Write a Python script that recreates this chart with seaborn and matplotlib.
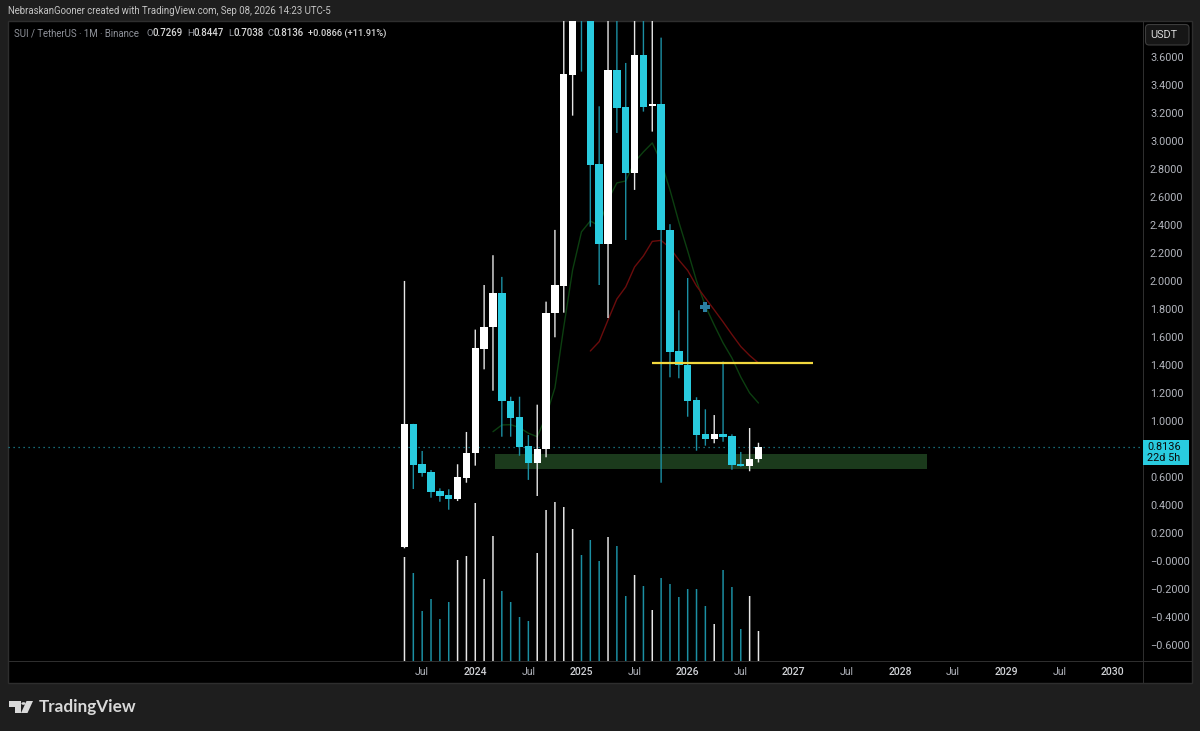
import matplotlib.pyplot as plt
import matplotlib.patches as mpatches
import numpy as np
import pandas as pd
import seaborn as sns

# monthly SUI/USDT candles, May 2023 - Sep 2026
opens = [0.099, 0.977, 0.691, 0.634, 0.500, 0.471, 0.440, 0.595, 0.774, 1.513, 1.673, 1.916, 1.146, 1.027,
         0.822, 0.702, 0.798, 1.771, 1.968, 3.475, 4.250, 4.050, 2.837, 2.267, 3.511, 3.247, 2.777, 3.618,
         3.254, 3.266, 2.367, 1.499, 1.401, 1.151, 0.905, 0.874, 0.905, 0.893, 0.691, 0.679, 0.7269]
highs = [2.002, 0.980, 0.786, 0.650, 0.519, 0.512, 0.691, 0.922, 1.654, 1.973, 2.186, 2.031, 1.174, 1.174,
         0.900, 1.117, 1.854, 2.367, 4.000, 4.600, 5.300, 4.300, 3.251, 4.000, 4.000, 3.561, 4.000, 4.000,
         4.000, 3.742, 2.408, 1.792, 2.023, 1.170, 1.084, 1.043, 1.425, 0.905, 0.779, 0.950, 0.8447]
lows = [0.090, 0.514, 0.602, 0.452, 0.423, 0.366, 0.428, 0.559, 0.681, 1.370, 1.217, 0.888, 0.888, 0.752,
        0.579, 0.464, 0.741, 1.599, 1.775, 3.184, 3.499, 2.390, 1.973, 1.737, 3.060, 2.295, 2.653, 3.213,
        3.070, 0.559, 1.313, 1.306, 1.031, 0.788, 0.824, 0.841, 0.852, 0.652, 0.674, 0.641, 0.7038]
closes = [0.977, 0.686, 0.629, 0.495, 0.466, 0.440, 0.598, 0.774, 1.523, 1.675, 1.916, 1.141, 1.022, 0.817,
          0.702, 0.798, 1.773, 1.973, 3.481, 4.200, 4.050, 2.832, 2.267, 3.511, 3.242, 2.777, 3.618, 3.249,
          3.266, 2.365, 1.496, 1.399, 1.146, 0.903, 0.874, 0.905, 0.888, 0.686, 0.679, 0.729, 0.8136]
volumes = [1040, 880, 500, 620, 420, 590, 1010, 1050, 1580, 820, 1250, 700, 590, 440, 400, 1080, 1510, 1590,
           1540, 1320, 1060, 1210, 1000, 1240, 1150, 650, 860, 750, 510, 830, 770, 640, 720, 720, 550, 370,
           910, 740, 320, 650, 300]

ema_green = [0.924, 0.972, 0.974, 0.953, 0.913, 0.888, 1.036, 1.237, 1.673, 2.081, 2.353, 2.431, 2.395, 2.581,
             2.703, 2.717, 2.853, 2.925, 2.989, 2.853, 2.653, 2.424, 2.217, 2.002, 1.823, 1.687, 1.559, 1.451,
             1.315, 1.201, 1.129]
ema_red = [1.501, 1.568, 1.723, 1.873, 1.959, 2.102, 2.181, 2.285, 2.292, 2.238, 2.152, 2.077, 1.966, 1.880,
           1.795, 1.709, 1.619, 1.533, 1.469, 1.415]
ema_green_start = 10
ema_red_start = 21

year_ticks = [2, 8, 14, 20, 26, 32, 38, 44, 50, 56, 62, 68, 74, 80]
year_labels = ['Jul', '2024', 'Jul', '2025', 'Jul', '2026', 'Jul', '2027', 'Jul', '2028', 'Jul', '2029', 'Jul', '2030']
price_ticks = [3.6, 3.4, 3.2, 3.0, 2.8, 2.6, 2.4, 2.2, 2.0, 1.8, 1.6, 1.4, 1.2, 1.0, 0.8, 0.6, 0.4, 0.2, 0.0,
               -0.2, -0.4, -0.6]
hidden_price_tick = 0.8  # covered by the last price tag
last_price = 0.8136
zone_low, zone_high = 0.657, 0.7645
level_price = 1.4175

CYAN = '#29cbdf'
WICK_CYAN = '#1b8fa3'
FRAME = '#1e1e1e'
LINE = '#2e2e2e'
W, H = 1200, 731

df = pd.DataFrame({'month': np.arange(len(opens)), 'open': opens, 'high': highs, 'low': lows, 'close': closes,
                   'volume': volumes})
df['up'] = df['close'] >= df['open']
df['body_low'] = df[['open', 'close']].min(axis=1)
df['body'] = (df['close'] - df['open']).abs()
body_colors = [('white' if u else CYAN) for u in df['up']]
wick_colors = [('#e6e6e6' if u else WICK_CYAN) for u in df['up']]

sns.set_theme(style='dark')
plt.rcParams['font.family'] = ['Roboto', 'DejaVu Sans']

fig = plt.figure(figsize=(W / 100, H / 100), dpi=100, facecolor=FRAME)


def px_rect(x0, y0, x1, y1, **kw):
    # rectangle in picture pixels, y measured from the top
    r = mpatches.Rectangle((x0 / W, 1 - y1 / H), (x1 - x0) / W, (y1 - y0) / H, transform=fig.transFigure, **kw)
    fig.add_artist(r)
    return r


px_rect(8, 21, 1192, 683, facecolor='black', edgecolor=LINE, linewidth=1, zorder=-5)

ax = fig.add_axes([8 / W, 1 - 661 / H, (1143 - 8) / W, (661 - 21) / H], facecolor='black', zorder=2)
ax.patch.set_alpha(0)
ax_vol = ax.twinx()
ax_vol.set_zorder(1)
ax_vol.patch.set_alpha(0)

# volume pane, same time axis
sns.barplot(x=df['month'], y=df['volume'], native_scale=True, width=0.17, errorbar=None, color='white', ax=ax_vol)
for patch, c in zip(ax_vol.patches, wick_colors):
    patch.set_facecolor(c)
    patch.set_edgecolor('none')
    patch.set_snap(False)
ax_vol.set_ylim(0, 6400)
ax_vol.axis('off')

ax.axhspan(zone_low, zone_high, xmin=(10.2 + 44.8) / 128.25, xmax=(59.0 + 44.8) / 128.25, color='#1b3a1c', lw=0,
           zorder=1)
ax.axhline(last_price, color='#1f8c9c', lw=0.9, ls=(0, (1, 3)), zorder=1.5)

wicks = ax.vlines(df['month'], df['low'], df['high'], colors=wick_colors, lw=1.0, zorder=3)
wicks.set_snap(False)
n_bars = len(ax.patches)
sns.barplot(data=df, x='month', y='body', bottom=df['body_low'].values, native_scale=True, width=0.84,
            errorbar=None, color='white', ax=ax, zorder=4)
for patch, c in zip(ax.patches[n_bars:], body_colors):
    patch.set_facecolor(c)
    patch.set_edgecolor('none')

sns.lineplot(x=np.arange(len(ema_green)) + ema_green_start, y=ema_green, color='#0c3f10', lw=1.0, ax=ax,
             errorbar=None, zorder=2.5)
sns.lineplot(x=np.arange(len(ema_red)) + ema_red_start, y=ema_red, color='#6a0c0c', lw=1.0, ax=ax,
             errorbar=None, zorder=2.5)

ax.plot([28.0, 46.15], [level_price, level_price], color='#f2d83e', lw=1.6, zorder=5, solid_capstyle='butt')
ax.plot([34.0], [1.818], marker='P', ms=7.5, color='#2b7fa3', mew=0, zorder=5)

ax.set_xlim(-44.8, 83.45)
ax.set_ylim(-0.716, 3.861)
ax.set_xlabel('')
ax.set_ylabel('')
ax.grid(False)
for s in ax.spines.values():
    s.set_visible(False)
ax.set_xticks(year_ticks, year_labels)
ax.yaxis.tick_right()
shown = [p for p in price_ticks if p != hidden_price_tick]
ax.set_yticks(shown, [('\u2212' if p <= 0 else '') + f'{abs(p):.4f}' for p in shown])
ax.tick_params(axis='both', length=0, colors='#b2b5bd', labelsize=7.8)
ax.tick_params(axis='x', pad=4.5, labelsize=7.5)
ax.tick_params(axis='y', pad=5)
for lab in ax.get_xticklabels():
    if lab.get_text().isdigit():
        lab.set_fontweight('medium')
        lab.set_color('#d0d2d6')

# panel lines
px_rect(8, 660.5, 1192, 661.5, facecolor=LINE, edgecolor='none', zorder=3)
px_rect(1142.5, 21, 1143.5, 683, facecolor=LINE, edgecolor='none', zorder=3)

# last price tag
px_rect(1143, 440, 1189, 465, facecolor=CYAN, edgecolor='none', zorder=6)
fig.text(1164 / W, 1 - 446.7 / H, '0.8136', color='#0a0a0a', fontsize=7.8, ha='center', va='center', zorder=7)
fig.text(1164 / W, 1 - 458 / H, '22d 5h', color='#0a0a0a', fontsize=7.8, ha='center', va='center', zorder=7)

# currency button
button = mpatches.FancyBboxPatch((1145.5 / W, 1 - 45 / H), 43.5 / W, 20.5 / H,
                                 boxstyle='round,pad=0,rounding_size=0.003', transform=fig.transFigure,
                                 facecolor='#161616', edgecolor='#3d3d3d', lw=0.8, mutation_aspect=1.6, zorder=6)
fig.add_artist(button)
fig.text(1164 / W, 1 - 35 / H, 'USDT', color='#d8d8d8', fontsize=7.8, ha='center', va='center', zorder=7)

# header texts
fig.text(8 / W, 1 - 11.5 / H, 'NebraskanGooner created with TradingView.com, Sep 08, 2026 14:23 UTC-5',
         color='#c4c4c4', fontsize=6.95, ha='left', va='center')
fig.text(14 / W, 1 - 33.5 / H, 'SUI / TetherUS \u00b7 1M \u00b7 Binance', color='#8f929a', fontsize=6.9, ha='left',
         va='center', zorder=7)
for x, gap, label, val in [(146.5, 6.2, 'O', '0.7269'), (187.5, 6.2, 'H', '0.8447'), (228.5, 5, 'L', '0.7038'),
                           (267.5, 6, 'C', '0.8136')]:
    fig.text(x / W, 1 - 33.5 / H, label, color='#8f929a', fontsize=6.8, ha='left', va='center', zorder=7)
    fig.text((x + gap) / W, 1 - 33.5 / H, val, color='#d8d8d8', fontsize=6.9, ha='left', va='center', zorder=7,
             fontweight='medium')
fig.text(308 / W, 1 - 33.5 / H, '+0.0866 (+11.91%)', color='#d8d8d8', fontsize=6.7, ha='left', va='center', zorder=7,
         fontweight='medium')

# logo
logo_color = '#d9d9d9'
logo_shapes = [
    [(9.3, 701), (20.5, 701), (20.5, 713), (15, 713), (15, 706.5), (9.3, 706.5)],
    [(26.5, 701), (33, 701), (27.5, 713), (21, 713)],
]
for pts in logo_shapes:
    fig.add_artist(mpatches.Polygon([(x / W, 1 - y / H) for x, y in pts], closed=True, transform=fig.transFigure,
                                    facecolor=logo_color, edgecolor='none'))
fig.add_artist(mpatches.Circle((23.5 / W, 1 - 703.5 / H), 0.0018, transform=fig.transFigure, facecolor=logo_color,
                               edgecolor='none'))
fig.text(39 / W, 1 - 707 / H, 'TradingView', color=logo_color, fontsize=12.3, fontweight='bold', ha='left',
         va='center', family=['Lato', 'DejaVu Sans'])

fig.savefig('out.png', dpi=100, facecolor=FRAME)
